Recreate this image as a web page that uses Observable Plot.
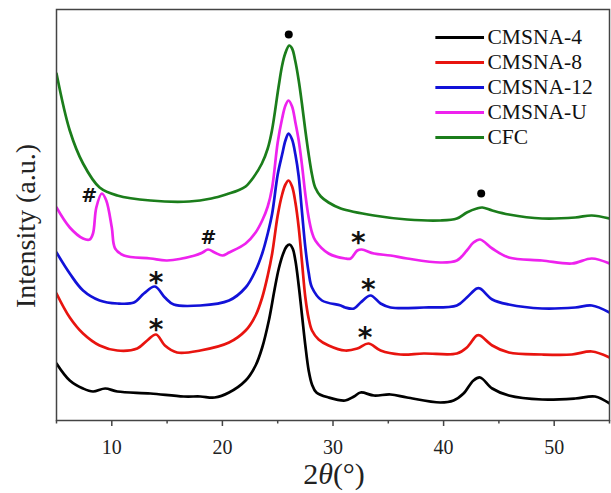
<!DOCTYPE html>
<html><head><meta charset="utf-8">
<script src="https://cdn.jsdelivr.net/npm/d3@7"></script>
<script src="https://cdn.jsdelivr.net/npm/@observablehq/plot@0.6"></script>
<style>
body{margin:0;background:#fff}
#chart{position:relative;width:611px;height:493px}
</style>
</head><body><div id="chart"></div>
<script>
// Series names and colours
const seriesNames = ["CMSNA-4", "CMSNA-8", "CMSNA-12", "CMSNA-U", "CFC"];
const seriesColors = ["#000000", "#e8140f", "#1212d8", "#ee22ee", "#1b7d1b"];

// XRD patterns: [2θ (°), intensity (a.u.)]
const CMSNA4 = [[5.0,57],[6.2,40],[7.4,32],[8.3,29],[9.4,32],[10.5,29],[13.5,27],[16.5,24],[18.0,24],[19.3,23],[20.6,28],[22.1,40],[23.0,55],[23.6,73],[24.2,100],[24.7,130],[25.1,152],[25.5,167],[25.8,174],[26.07,176],[26.35,172],[26.6,160],[26.9,135],[27.2,105],[27.5,75],[27.8,50],[28.1,36],[28.5,28],[29.6,23],[31.1,20],[31.9,24],[32.5,28],[33.7,25],[35.2,26],[36.7,23],[39.7,18],[40.9,20],[41.8,27],[42.7,40],[43.3,43],[44.4,32],[45.9,25],[48.9,21],[51.9,22],[53.7,24],[55.0,17]];
const CMSNA8 = [[5.0,127],[6.2,103],[7.4,87],[8.9,75],[10.5,70],[12.3,72],[13.2,80],[14.0,86],[14.8,75],[15.9,68],[18.0,70],[20.6,78],[22.1,90],[23.0,105],[23.6,123],[24.1,145],[24.5,167],[25.0,205],[25.4,226],[25.7,236],[25.98,240],[26.3,234],[26.6,218],[26.9,193],[27.2,158],[27.5,123],[27.8,102],[28.1,90],[28.7,81],[29.6,75],[31.1,70],[32.2,72],[33.2,77],[34.3,70],[36.1,66],[38.2,67],[41.2,67],[42.1,73],[43.0,85],[43.3,85],[44.4,75],[45.9,68],[48.9,66],[51.6,66],[53.4,69],[55.0,63]];
const CMSNA12 = [[5.0,168],[6.2,147],[7.4,130],[8.9,120],[10.5,117],[12.0,118],[12.9,127],[13.9,134],[14.8,123],[15.6,116],[18.0,115],[20.6,120],[22.1,133],[23.0,150],[23.6,167],[24.1,187],[24.5,207],[25.0,246],[25.4,266],[25.7,280],[25.98,287],[26.3,281],[26.6,266],[26.9,244],[27.2,208],[27.5,173],[27.8,148],[28.1,133],[29.0,120],[30.7,115],[31.1,113],[31.9,112],[32.5,118],[33.4,125],[34.3,117],[35.2,113],[38.2,113],[41.2,115],[42.1,123],[43.0,132],[43.3,132],[44.4,121],[45.9,116],[48.9,112],[51.9,113],[53.4,115],[55.0,108]];
const CMSNAU = [[5.0,213],[6.2,193],[7.4,182],[8.0,181],[8.3,187],[8.6,213],[9.1,227],[9.5,220],[10.0,193],[10.3,172],[11.1,165],[13.5,162],[15.0,160],[17.5,165],[18.2,168],[18.7,171],[19.3,168],[20.0,165],[20.6,168],[22.1,177],[23.0,188],[23.6,200],[24.1,214],[24.5,233],[25.0,278],[25.4,302],[25.7,315],[25.98,320],[26.3,314],[26.6,298],[26.9,280],[27.2,255],[27.5,226],[27.8,203],[28.1,188],[28.4,180],[29.6,167],[31.1,162],[31.6,162],[32.2,170],[32.6,171],[33.7,167],[35.2,165],[36.7,162],[39.7,158],[41.2,160],[42.1,170],[42.7,178],[43.3,181],[44.4,172],[45.9,163],[48.9,160],[51.6,157],[53.4,162],[55.0,157]];
const CFC = [[5.0,347],[6.2,290],[7.4,257],[8.9,233],[10.5,225],[13.5,220],[17.0,219],[19.0,222],[20.6,227],[21.4,230],[22.1,234],[22.8,243],[23.57,257],[24.1,272],[24.48,290],[25.07,333],[25.4,355],[25.68,367],[26.04,375],[26.3,372],[26.58,360],[26.9,340],[27.19,317],[27.5,290],[27.79,267],[28.1,246],[28.39,233],[28.9,224],[29.6,218],[30.7,212],[33.7,205],[36.7,201],[39.7,200],[41.2,202],[42.1,208],[43.0,212],[43.5,213],[44.4,210],[45.9,206],[48.9,202],[51.9,203],[53.4,205],[55.0,202]];
const seriesData = [CMSNA4, CMSNA8, CMSNA12, CMSNAU, CFC];

// Axis ticks
const xMajorTicks = [10, 20, 30, 40, 50];
const xMinorTicks = [5, 15, 25, 35, 45, 55];

// Peak markers
const hashX = [7.95, 18.74];
const hashY = [225, 183];
const starX = [32.3, 14.0, 33.2, 14.0, 32.9];
const starY = [185, 145, 138, 98, 90];
const bulletX = [26.0, 43.4];
const bulletY = [386, 227];

const rows = seriesData.flatMap((s, i) => s.map(([x, y]) => ({series: seriesNames[i], x, y})));
const hashes = hashX.map((x, i) => ({x, y: hashY[i]}));
const stars = starX.map((x, i) => ({x, y: starY[i]}));
const bullets = bulletX.map((x, i) => ({x, y: bulletY[i]}));
const legend = seriesNames.map((name, i) => ({name, x1: 39.3, x2: 43.7, y: 383 - i * 25}));

const SERIF = "'Liberation Serif', 'Times New Roman', serif";
const SANS = "'DejaVu Sans', sans-serif";

const plot = Plot.plot({
  width: 611,
  height: 493,
  marginLeft: 56,
  marginRight: 2,
  marginTop: 9,
  marginBottom: 73,
  x: {domain: [5, 55], axis: null},
  y: {domain: [0, 411], axis: null},
  color: {domain: seriesNames, range: seriesColors},
  marks: [
    Plot.line(rows, {x: "x", y: "y", z: "series", stroke: "series", strokeWidth: 2.7, curve: "catmull-rom", clip: true}),
    Plot.frame({stroke: "#444", strokeWidth: 1.5}),
    Plot.axisX(xMajorTicks, {tickSize: 6, tickPadding: 13, fontSize: 20, color: "#222", label: null, stroke: "#444", strokeWidth: 1.5}),
    Plot.axisX(xMinorTicks, {tickSize: 3.5, tickFormat: () => "", label: null, stroke: "#444", strokeWidth: 1.5}),
    Plot.text(hashes, {x: "x", y: "y", text: () => "#", fontSize: 19, fontWeight: "bold", fill: "#111"}),
    Plot.text(stars, {x: "x", y: "y", text: () => "*", fontSize: 28, fontWeight: "bold", fill: "#111", dy: 8}),
    Plot.dot(bullets, {x: "x", y: "y", r: 4, fill: "#000", stroke: null}),
    Plot.ruleY(legend, {x1: "x1", x2: "x2", y: "y", stroke: "name", strokeWidth: 3}),
    Plot.text(legend, {x: "x2", y: "y", text: "name", textAnchor: "start", dx: 3, fontSize: 21.5, fill: "#111"})
  ]
});

const chart = document.getElementById("chart");
chart.appendChild(plot);

const svg = d3.select(plot);
// fonts: serif for labels, bold sans for peak markers
svg.selectAll("text").each(function() {
  const t = this.textContent;
  const marker = t === "#" || t === "*";
  d3.select(this)
    .style("font-family", marker ? SANS : SERIF, "important")
    .style("font-weight", marker ? "bold" : "normal", "important");
});
// y axis title
svg.append("text")
  .attr("transform", "translate(25,226) rotate(-90)")
  .attr("text-anchor", "middle")
  .attr("dominant-baseline", "central")
  .style("font-family", SERIF)
  .attr("font-size", 28)
  .attr("fill", "#222")
  .text("Intensity (a.u.)");
// x axis title with italic theta
const xt = svg.append("text")
  .attr("x", 334).attr("y", 484)
  .attr("text-anchor", "middle")
  .style("font-family", SERIF)
  .attr("font-size", 30)
  .attr("fill", "#222");
xt.append("tspan").text("2");
xt.append("tspan").attr("font-style", "italic").text("θ");
xt.append("tspan").text("(°)");
</script>
</body></html>
